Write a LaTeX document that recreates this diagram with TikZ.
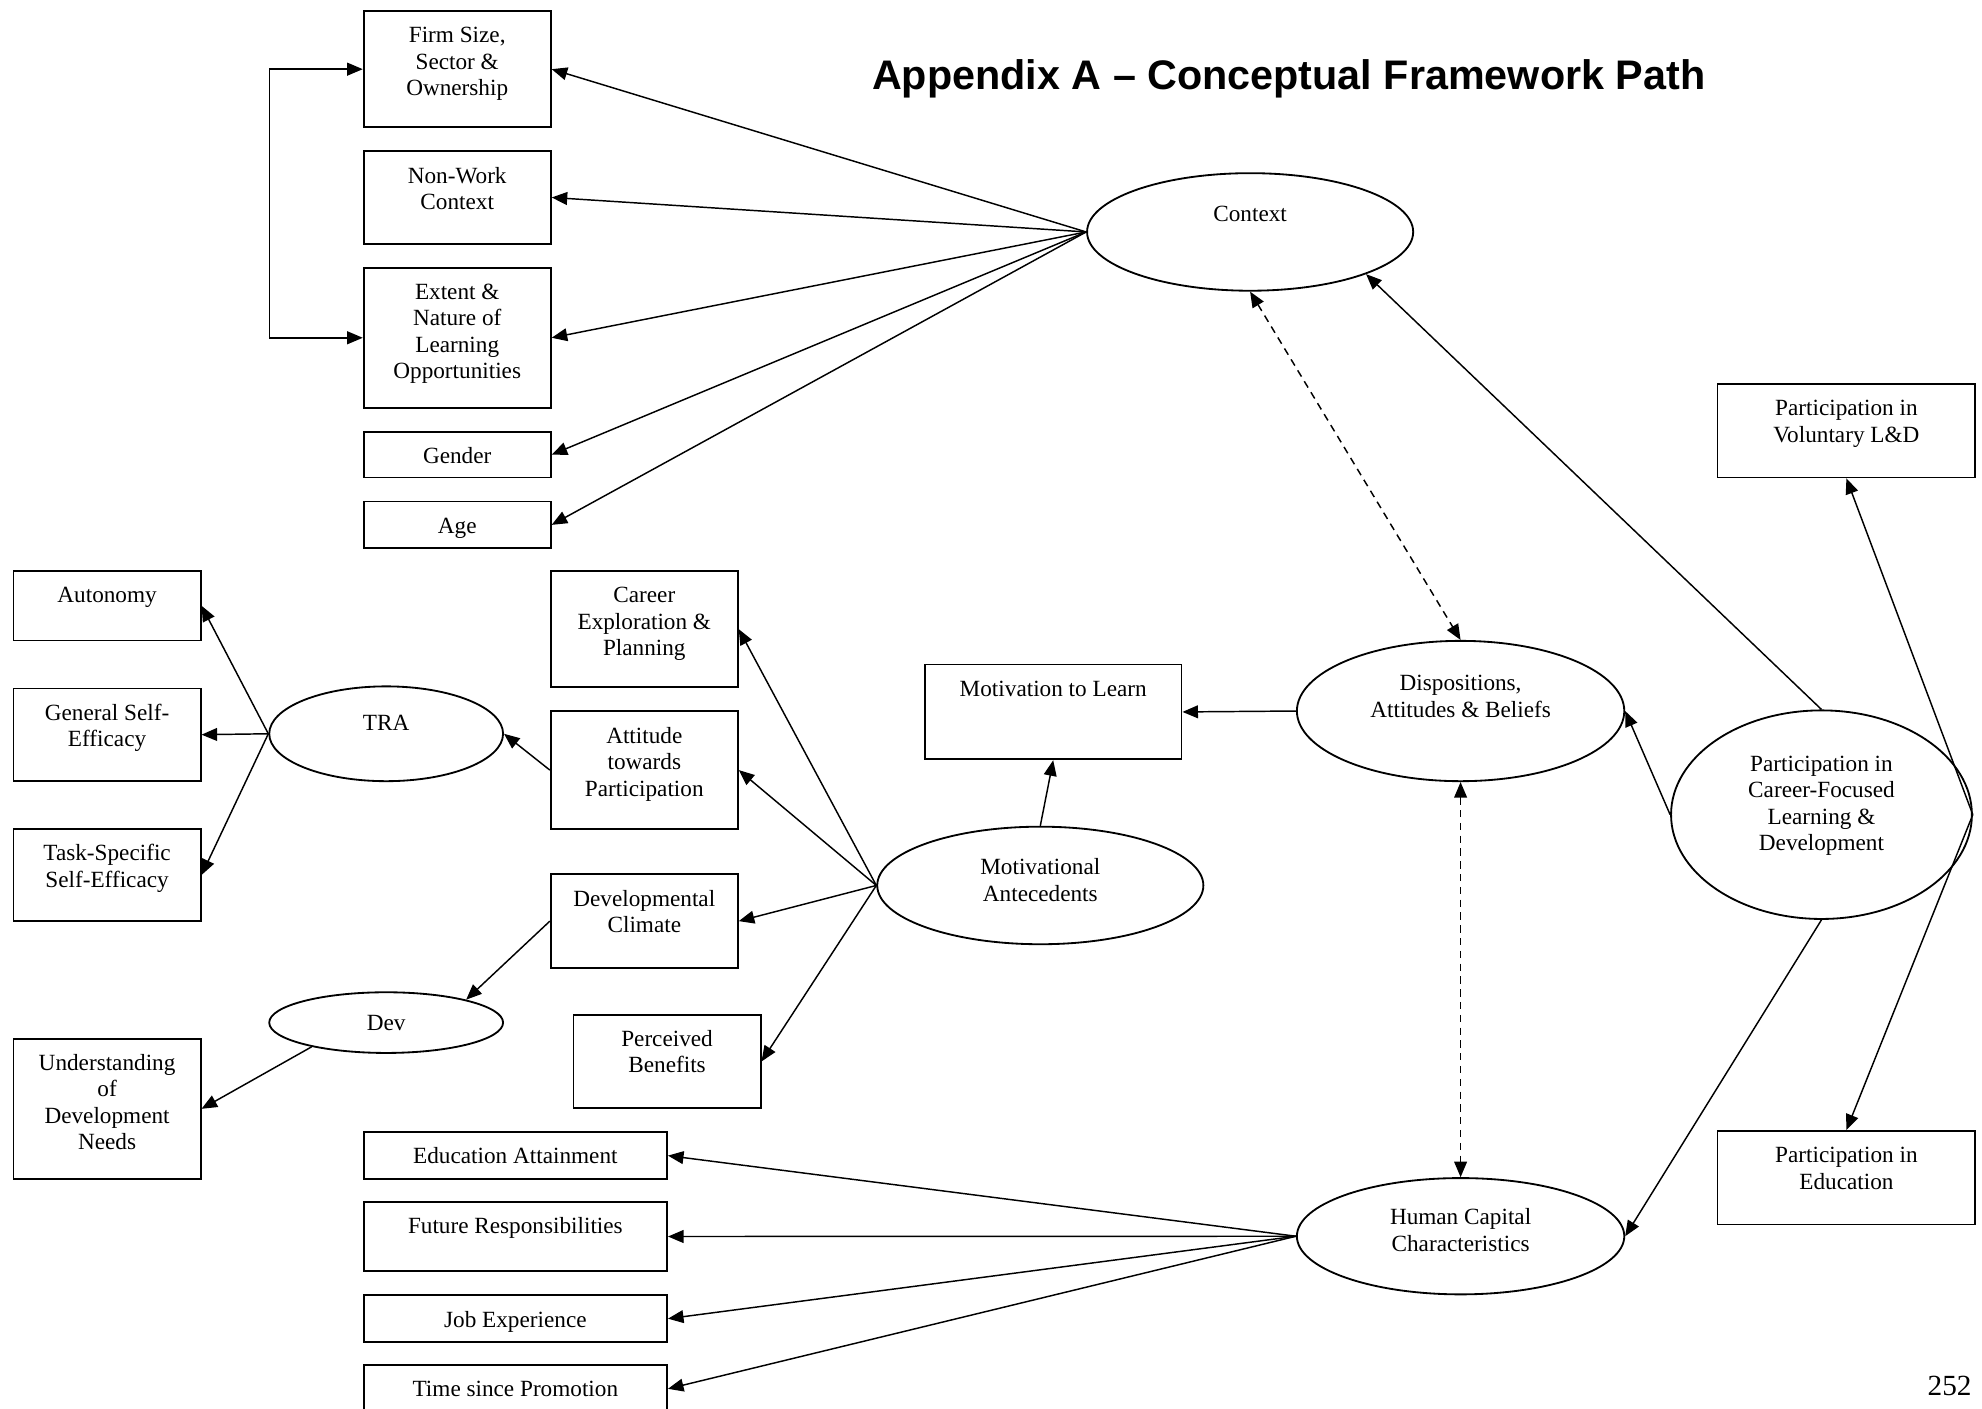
\documentclass[tikz,border=0pt]{standalone}
\usepackage{fontspec}
\setmainfont{Liberation Serif}
\newfontfamily\titlefont{Liberation Sans}
\usetikzlibrary{arrows.meta,shapes.geometric,calc}
\newdimen\ux \ux=0.6915pt
% box: name, left, top, right, bottom, text (text set from the top)
\newcommand\bx[6]{\node[boxn] (#1) at (#2,#3) {\begin{minipage}[c][\dimexpr#5\ux-#3\ux\relax][t]{\dimexpr#4\ux-#2\ux\relax}\centering\vspace*{7.2pt}\strut#6\end{minipage}};}
\newcommand\ml[1]{\begin{tabular}[t]{@{}c@{}}#1\end{tabular}}
\begin{document}
\begin{tikzpicture}[x=0.6915pt,y=-0.6915pt,
  txtf/.style={font=\fontsize{12.7}{14.5}\selectfont},
  boxn/.style={draw,line width=1pt,inner sep=0pt,anchor=north west,txtf},
  ell/.style 2 args={draw,ellipse,line width=1pt,inner sep=0pt,minimum width=#1*0.6915pt,minimum height=#2*0.6915pt},
  lbl/.style={anchor=base,inner sep=0pt,txtf},
  arr/.style={line width=0.8pt,-{Triangle[length=8.5pt,width=7pt]}},
  arrr/.style={line width=0.8pt,{Triangle[length=8.5pt,width=7pt]}-{Triangle[length=8.5pt,width=7pt]}},
  dsh/.style={arrr,dash pattern=on 4pt off 3pt}]
\useasboundingbox (0,0) rectangle (1568,1114);

% title and page number
\node[anchor=base,inner sep=0pt,font=\titlefont\bfseries\fontsize{22.6}{27}\selectfont] (title) at (1019.5,71) {Appendix A – Conceptual Framework Path};
\node[anchor=base east,inner sep=0pt,font=\fontsize{16}{19}\selectfont] (pnum) at (1560,1104) {252};

% boxes
\bx{firm}{287}{8}{435}{100}{Firm Size,\\Sector \&\\Ownership}
\bx{nonwork}{287}{119}{435}{192}{Non-Work\\Context}
\bx{extent}{287}{211}{435}{322}{Extent \&\\Nature of\\Learning\\Opportunities}
\bx{gender}{287}{341}{435}{377}{Gender}
\bx{age}{287}{396}{435}{433}{Age}
\bx{auto}{10}{451}{158}{506}{Autonomy}
\bx{gse}{10}{544}{158}{617}{General Self-\\Efficacy}
\bx{tsse}{10}{655}{158}{728}{Task-Specific\\Self-Efficacy}
\bx{career}{435}{451}{583}{543}{Career\\Exploration \&\\Planning}
\bx{attit}{435}{562}{583}{655}{Attitude\\towards\\Participation}
\bx{devc}{435}{691}{583}{765}{Developmental\\Climate}
\bx{perc}{453}{802}{601}{876}{Perceived\\Benefits}
\bx{undn}{10}{821}{158}{932}{Understanding\\of\\Development\\Needs}
\bx{eduat}{287}{895}{527}{932}{Education Attainment}
\bx{future}{287}{950}{527}{1005}{Future Responsibilities}
\bx{jobex}{287}{1024}{527}{1061}{Job Experience}
\bx{timep}{287}{1079}{527}{1117}{Time since Promotion}
\bx{mtl}{731}{525}{934}{600}{Motivation to Learn}
\bx{vol}{1358}{303}{1562}{377}{Participation in\\Voluntary L\&D}
\bx{pedu}{1358}{894}{1562}{968}{Participation in\\Education}

% ellipses
\node[ell={258}{93}] (ctx) at (989,183.5) {};
\node[lbl] (ctx-t) at (989,175) {Context};
\node[ell={185}{75}] (tra) at (305.5,580.5) {};
\node[lbl] (tra-t) at (305.5,578) {TRA};
\node[ell={185}{48}] (dev) at (305.5,809) {};
\node[lbl] (dev-t) at (305.5,815) {Dev};
\node[ell={259}{111}] (disp) at (1155.5,562.5) {};
\node[lbl] (disp-t) at (1155.5,546.5) {\ml{Dispositions,\\Attitudes \& Beliefs}};
\node[ell={258}{93}] (ma) at (823,700.5) {};
\node[lbl] (ma-t) at (823,692) {\ml{Motivational\\Antecedents}};
\node[ell={259}{92}] (hc) at (1155.5,978) {};
\node[lbl] (hc-t) at (1155.5,969) {\ml{Human Capital\\Characteristics}};
\node[ell={238}{165}] (pcf) at (1441,644.5) {};
\node[lbl] (pcf-t) at (1441,610) {\ml{Participation in\\Career-Focused\\Learning \&\\Development}};

% connectors: context
\draw[arr] (ctx.west) -- (firm.east);
\draw[arr] (ctx.west) -- (nonwork.east);
\draw[arr] (ctx.west) -- (extent.east);
\draw[arr] (ctx.west) -- (gender.east);
\draw[arr] (ctx.west) -- (age.east);
\draw[arrr] (firm.west) -- ++(-74,0) |- (extent.west);
\draw[dsh] (ctx.south) -- (disp.north);

% participation in career-focused L&D
\draw[arr] (pcf.north) -- (ctx.-20);
\draw[arr] (pcf.west) -- (disp.east);
\draw[arr] (pcf.south) -- (hc.east);
\draw[arr] (pcf.east) -- (vol.south);
\draw[arr] (pcf.east) -- (pedu.north);

% dispositions
\draw[arr] (disp.west) -- (mtl.east);
\draw[dsh] (disp.south) -- (hc.north);

% motivational antecedents
\draw[arr] (ma.north) -- (mtl.south);
\draw[arr] (ma.west) -- (career.east);
\draw[arr] (ma.west) -- (attit.east);
\draw[arr] (ma.west) -- (devc.east);
\draw[arr] (ma.west) -- (perc.east);

% TRA and Dev
\draw[arr] (attit.west) -- (tra.east);
\draw[arr] (tra.west) -- (auto.east);
\draw[arr] (tra.west) -- (gse.east);
\draw[arr] (tra.west) -- (tsse.east);
\draw[arr] (devc.west) -- (dev.16);
\draw[arr] (dev.198) -- (undn.east);

% human capital
\draw[arr] (hc.west) -- (eduat.east);
\draw[arr] (hc.west) -- (future.east);
\draw[arr] (hc.west) -- (jobex.east);
\draw[arr] (hc.west) -- (timep.east);
\end{tikzpicture}
\end{document}
